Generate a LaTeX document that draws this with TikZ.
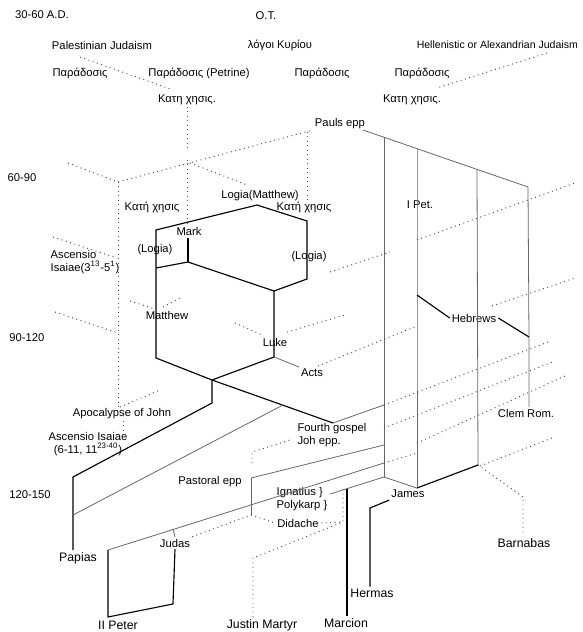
\documentclass[tikz,border=0pt]{standalone}
\usepackage{fontspec}
\setmainfont{Liberation Sans}
\usetikzlibrary{positioning}

\begin{document}
\begin{tikzpicture}[x=0.02cm, y=-0.02cm,
  main node/.style={font=\fontsize{6.4}{7.4}\selectfont, inner sep=1pt},
  big node/.style={font=\fontsize{7}{8}\selectfont, inner sep=1pt},
  firm/.style={line width=0.65pt},
  faint/.style={line width=0.45pt, black!60},
  dots/.style={line width=0.55pt, dotted, black!70}]
  \useasboundingbox (0,0) rectangle (582,632);

  \node[main node] (ad) at (42,15) {30-60 A.D.};
  \node[main node] (ot) at (266,16) {O.T.};
  \node[main node] (pal) at (102,45) {Palestinian Judaism};
  \node[main node] (logoi) at (280,45) {λόγοι Κυρίου};
  \node[main node, anchor=east, font=\fontsize{6}{7}\selectfont] (hel) at (580,45) {Hellenistic or Alexandrian Judaism};
  \node[main node] (par1) at (80,73) {Παράδοσις};
  \node[main node] (par2) at (199,73) {Παράδοσις (Petrine)};
  \node[main node] (par3) at (322,73) {Παράδοσις};
  \node[main node] (par4) at (422,73) {Παράδοσις};
  \node[main node] (kat1) at (187,100) {Κατη χησις.};
  \node[main node] (kat2) at (412,100) {Κατη χησις.};
  \node[main node] (paul) at (340,124) {Pauls epp};

  \node[main node] (per2) at (22,178) {60-90};
  \node[main node] (kat3) at (152,207) {Κατή χησις};
  \node[main node] (logm) at (260,196) {Logia(Matthew)};
  \node[main node] (kat4) at (304,207) {Κατή χησις};
  \node[main node] (mark) at (189,231) {Mark};
  \node[main node] (log1) at (155,250) {(Logia)};
  \node[main node] (log2) at (309,257) {(Logia)};
  \node[main node] (pet1) at (420,205) {I Pet.};
  \node[main node, align=left] (asc1) at (85,262) {Ascensio\\Isaiae(3\textsuperscript{13}-5\textsuperscript{1})};
  \node[main node] (matt) at (167,315) {Matthew};

  \node[main node] (per3) at (27,338) {90-120};
  \node[main node] (luke) at (275,342) {Luke};
  \node[main node] (acts) at (312,373) {Acts};
  \node[main node] (heb) at (474,318) {Hebrews};
  \node[main node] (apoc) at (122,414) {Apocalypse of John};
  \node[main node, align=center] (asc2) at (88,444) {Ascensio Isaiae\\(6-11, 11\textsuperscript{23-40})};
  \node[main node, align=left] (joh) at (332,435) {Fourth gospel\\Joh epp.};
  \node[main node] (clem) at (526,413) {Clem Rom.};

  \node[main node] (past) at (210,482) {Pastoral epp};
  \node[main node] (per4) at (30,495) {120-150};
  \node[main node, align=left] (ign) at (302,499) {Ignatius \}\\Polykarp \}};
  \node[main node] (james) at (408,494) {James};
  \node[main node] (did) at (298,523) {Didache};
  \node[main node] (judas) at (175,543) {Judas};
  \node[big node] (papias) at (78,558) {Papias};
  \node[big node] (barn) at (524,543) {Barnabas};
  \node[big node] (hermas) at (372,593) {Hermas};
  \node[big node] (pet2) at (118,625) {II Peter};
  \node[big node] (justin) at (262,625) {Justin Martyr};
  \node[big node] (marc) at (346,623) {Marcion};

  \coordinate (lt) at (156,230);
  \coordinate (apex) at (257,205);
  \coordinate (rt) at (307,221);
  \coordinate (rb) at (307,279);
  \coordinate (lk) at (274,291);
  \coordinate (mk) at (188,262);
  \coordinate (mktop) at (188,238);
  \coordinate (lm) at (156,268);
  \coordinate (mt) at (156,358);
  \coordinate (lkb) at (274,357);
  \coordinate (jn) at (212,380);
  \coordinate (jn2) at (212,403);
  \coordinate (pa1) at (73,477);
  \coordinate (pa2) at (73,515);
  \coordinate (fg) at (333,423);
  \coordinate (fgl) at (283,405);
  \coordinate (pe) at (363,130);
  \coordinate (c1) at (384,137);
  \coordinate (c2) at (417,149);
  \coordinate (c3) at (477,170);
  \coordinate (c4) at (528,187);
  \coordinate (c1b) at (384,477);
  \coordinate (c2m) at (417,295);
  \coordinate (c2b) at (417,488);
  \coordinate (c3b) at (478,465);
  \coordinate (c4m) at (529,337);
  \coordinate (fgr) at (384,405);
  \coordinate (jhr) at (384,445);
  \coordinate (ptr) at (384,463);
  \coordinate (pt1) at (251,478);
  \coordinate (pt2) at (251,515);
  \coordinate (pp) at (108,550);
  \coordinate (ppb) at (108,617);
  \coordinate (jdb) at (173,604);
  \coordinate (jdt) at (173,529);
  \coordinate (ig) at (330,494);
  \coordinate (mc) at (347,489);
  \coordinate (dd) at (343,522);
  \coordinate (jm) at (253,558);
  \coordinate (hm) at (370,508);
  \coordinate (bb) at (523,497);

  % synoptic block
  \draw[firm] (mk) -- (mktop);
  \draw[firm] (lm) -- (mk) -- (lk) -- (rb) -- (rt) -- (apex) -- (lt) -- (mt) -- (jn) -- (lkb) -- (lk);
  \draw[firm] (jn) -- (jn2) -- (pa1) -- (pa1 |- papias.north);
  \draw[firm] (jn) -- (fg);
  \draw[faint] (fg) -- (fgr);
  \draw[faint] (fgl) -- (pa2);
  \draw[faint] (lkb) -- (acts.north west);

  % Pauline column
  \draw[faint] (pe) -- (c4);
  \draw[faint] (c1) -- (c1b);
  \draw[faint] (c2) -- (c2m) -- (c2b);
  \draw[faint] (c3) -- (c3b);
  \draw[faint] (c4) -- (c4m) -- (clem.north -| c4m);
  \draw[firm] (c2m) -- (heb.west);
  \draw[firm] (heb.east) -- (c4m);
  \draw[faint] (c1b) -- (c2b);
  \draw[firm] (c2b) -- (c3b);
  \draw[dots] (c3b) -- (bb) -- (barn.north -| bb);
  \draw[faint] (ig) -- (c1b);
  \draw[firm] (mc) -- (marc.north -| mc);
  \draw[firm] (hermas.north -| hm) -- (hm) -- (james.south west);

  % later lines
  \draw[faint] (pt1) -- (jhr);
  \draw[faint] (pt1) -- (pt2);
  \draw[faint] (pp) -- (ptr);
  \draw[dots] (ptr) -- (417,453);
  \draw[firm] (pp) -- (ppb) -- (jdb) -- (judas.south);
  \draw[faint] (jdt) -- (judas.north);
  \draw[dots] (judas.north east) -- (pt2) -- (did.west);
  \draw[dots] (252,463) -- (252,452) -- (290,440);
  \draw[dots] (mc -| dd) -- (dd) -- (did.east);
  \draw[dots] (justin.north -| jm) -- (jm) -- (dd);

  % dotted influences
  \draw[dots] (80,57) -- (173,90);
  \draw[dots] (547,53) -- (437,88);
  \draw[dots] (187,107) -- (187,150);
  \draw[dots] (187,160) -- (187,223);
  \draw[dots] (68,163) -- (118,182) -- (313,130);
  \draw[dots] (118,182) -- (apoc.north -| 118,0);
  \draw[dots] (123,421) -- (123,433);
  \draw[dots] (53,237) -- (117,258);
  \draw[dots] (55,312) -- (118,333);
  \draw[dots] (120,407) -- (160,390);
  \draw[dots] (190,163) -- (247,185);
  \draw[dots] (307,132) -- (kat4.north -| rt);
  \draw[dots] (130,301) -- (155,309);
  \draw[dots] (163,307) -- (182,297);
  \draw[dots] (235,323) -- (262,335);
  \draw[dots] (287,332) -- (345,315);
  \draw[dots] (330,272) -- (390,252);
  \draw[dots] (318,366) -- (417,326);
  \draw[dots] (417,240) -- (575,183);
  \draw[dots] (492,306) -- (575,278);
  \draw[dots] (fgr) -- (548,342);
  \draw[dots] (384,428) -- (555,361);
  \draw[dots] (417,443) -- (565,376);
  \draw[dots] (480,466) -- (552,438);
\end{tikzpicture}
\end{document}
